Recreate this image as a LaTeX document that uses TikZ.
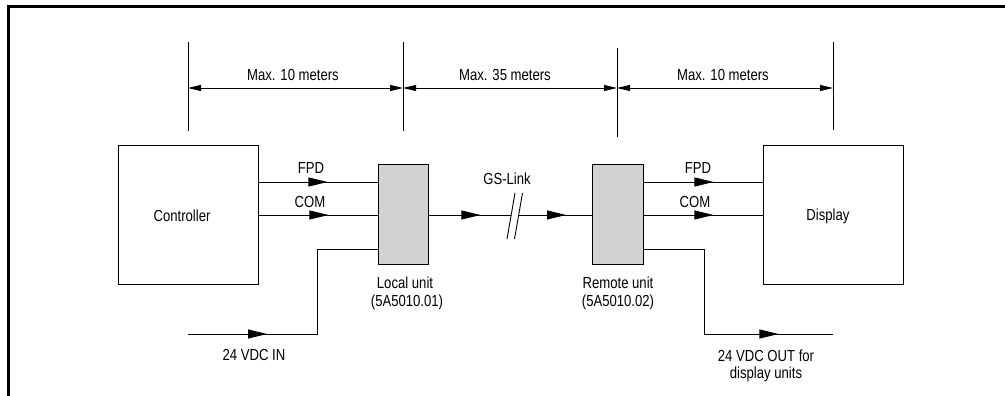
\documentclass[tikz,border=0pt]{standalone}
\usepackage{fontspec}
\setmainfont{Liberation Sans}[FakeStretch=0.82]
\usetikzlibrary{arrows.meta,decorations.markings}
\begin{document}
\begin{tikzpicture}[x=1pt,y=-1pt,
  every node/.style={font=\fontsize{16}{19}\selectfont, inner sep=0pt, text=black},
  box/.style={draw, line width=0.9pt, minimum width=#1, minimum height=139pt},
  unit/.style={draw, fill=gray!35, line width=0.9pt, minimum width=50pt, minimum height=100pt},
  wire/.style={line width=0.9pt},
  lbl/.style={anchor=base},
  midarrow/.style={decoration={markings, mark=at position #1 with {\arrow{Triangle[length=19pt,width=9pt]}}}, postaction={decorate}},
  dimline/.style={line width=0.9pt, {Triangle[length=13pt,width=6pt]}-{Triangle[length=13pt,width=6pt]}},
  tick/.style={line width=0.9pt}
]
\useasboundingbox (0,0) rectangle (1005,396);
\draw[line width=2.6pt] (8.5,396) -- (8.5,6.5) -- (1005,6.5);

% blocks
\node[box=140pt] (ctrl) at (188,214.5) {};
\node[unit] (lu) at (403,214) {};
\node[unit, minimum width=51pt] (ru) at (617.5,214) {};
\node[box=140pt] (disp) at (833,214.5) {};

% texts
\node[lbl] (tctrl) at (182,221) {Controller};
\node[lbl] (tdisp) at (828,220) {Display};
\node[lbl] (fpd1) at (311,173) {FPD};
\node[lbl] (com1) at (310,207) {COM};
\node[lbl] (fpd2) at (698,173) {FPD};
\node[lbl] (com2) at (695,207) {COM};
\node[lbl] (gs) at (507,184) {GS-Link};
\node[lbl] (lu1) at (405,288) {Local unit};
\node[lbl] (lu2) at (407,306) {(5A5010.01)};
\node[lbl] (ru1) at (618,288) {Remote unit};
\node[lbl] (ru2) at (618,306) {(5A5010.02)};
\node[lbl] (vin) at (254,360) {24 VDC IN};
\node[lbl] (vout1) at (766,361) {24 VDC OUT for};
\node[lbl] (vout2) at (766,378) {display units};
\node[lbl] (m1) at (293,81) {Max. 10 meters};
\node[lbl] (m2) at (505,81) {Max. 35 meters};
\node[lbl] (m3) at (723,81) {Max. 10 meters};

% dimension ticks
\coordinate (d1t) at (188,42); \coordinate (d1b) at (188,131);
\coordinate (d2t) at (403,42); \coordinate (d2b) at (403,131);
\coordinate (d3t) at (617,48); \coordinate (d3b) at (617,137);
\coordinate (d4t) at (833,42); \coordinate (d4b) at (833,130);
\draw[tick] (d1t) -- (d1b);
\draw[tick] (d2t) -- (d2b);
\draw[tick] (d3t) -- (d3b);
\draw[tick] (d4t) -- (d4b);
\draw[dimline] (d1t |- 0,88) -- (d2t |- 0,88);
\draw[dimline] (d2t |- 0,88) -- (d3t |- 0,88);
\draw[dimline] (d3t |- 0,88) -- (d4t |- 0,88);

% controller -> local unit
\draw[wire, midarrow=69pt] (ctrl.east |- 0,182) -- (lu.west |- 0,182);
\draw[wire, midarrow=70pt] (ctrl.east |- 0,215) -- (lu.west |- 0,215);

% power in
\coordinate (pin) at (188,334);
\draw[wire, midarrow=79pt] (pin) -- (317,334) -- (317,249) -- (lu.west |- 0,249);

% GS-Link
\coordinate (brk1) at (511,215);
\coordinate (brk2) at (518.5,215);
\draw[wire, midarrow=52pt] (lu.east |- 0,215) -- (brk1);
\draw[wire, midarrow=47.5pt] (brk2) -- (ru.west |- 0,215);
\coordinate (s1a) at (515,193); \coordinate (s1b) at (507,239);
\coordinate (s2a) at (522.5,193); \coordinate (s2b) at (514.5,239);
\draw[wire] (s1a) -- (s1b);
\draw[wire] (s2a) -- (s2b);

% remote unit -> display
\draw[wire, midarrow=70pt] (ru.east |- 0,182) -- (disp.west |- 0,182);
\draw[wire, midarrow=70pt] (ru.east |- 0,215) -- (disp.west |- 0,215);

% power out
\coordinate (pout) at (833,334);
\draw[wire, midarrow=220pt] (ru.east |- 0,249) -- (704,249) -- (704,334) -- (pout);
\end{tikzpicture}
\end{document}
